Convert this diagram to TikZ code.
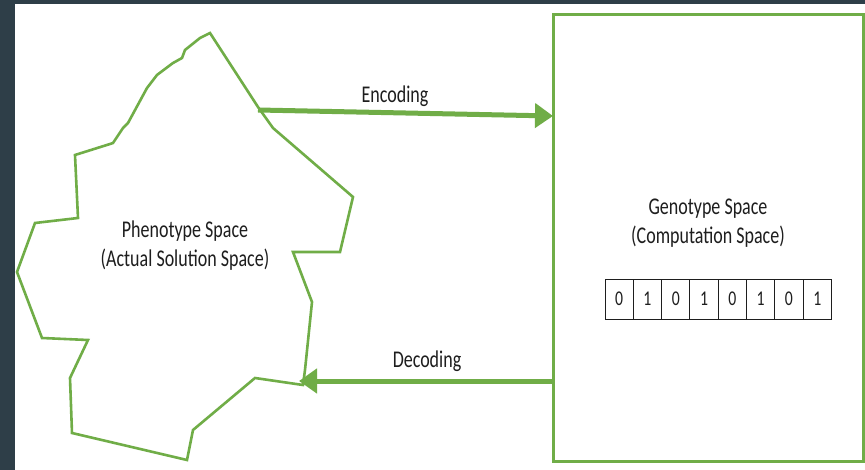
\documentclass[tikz,border=0pt]{standalone}
\usepackage{fontspec}
\setmainfont{Carlito}
\newfontfamily\lbl[FakeStretch=0.75]{Carlito}
\usetikzlibrary{arrows.meta}
\definecolor{bgdark}{RGB}{46,62,72}
\definecolor{gr}{RGB}{112,173,71}
\definecolor{txt}{RGB}{30,30,30}
\begin{document}
\begin{tikzpicture}[x=1pt,y=-1pt,
  lab/.style={font=\lbl\fontsize{24}{29}\selectfont, text=txt, inner sep=0pt, anchor=base, align=center},
  cell/.style={draw=txt, line width=0.9pt, minimum width=28.3pt, minimum height=40pt, inner sep=0pt,
    font=\lbl\fontsize{21}{22}\selectfont, text=txt},
  conn/.style={draw=gr, line width=5pt, -{Triangle[length=18pt,width=24pt]}},
  outline/.style={draw=gr, line width=2.6pt, line join=miter}]
\useasboundingbox (0,0) rectangle (865,470);
\fill[bgdark] (0,0) rectangle (865,470);
\fill[white] (15,4) rectangle (865,470);
% phenotype region
\draw[outline] (210,33) -- (200,38) -- (185,50) -- (182,58) -- (173,63) -- (157,75) -- (147,88)
  -- (128,123) -- (123,128) -- (113,143) -- (110,144) -- (75,155) -- (78,218) -- (35,223)
  -- (17,272) -- (42,338) -- (88,340) -- (70,378) -- (72,433) -- (187,460) -- (193,430)
  -- (255,378) -- (303,385) -- (305,370) -- (312,302) -- (293,252) -- (340,252) -- (353,197)
  -- (273,128) -- (258,107) -- cycle;
\node[lab] (pheno) at (185,267) {Phenotype Space\\(Actual Solution Space)};
% genotype box
\node[draw=gr, line width=3pt, minimum width=310pt, minimum height=446pt, inner sep=0pt] (geno) at (708,238) {};
\node[lab] (genotxt) at (708,244) {Genotype Space\\(Computation Space)};
\foreach \b [count=\i] in {0,1,0,1,0,1,0,1}{
  \node[cell] (c\i) at ({605+28.3*(\i-0.5)},299) {\b};
}
% connectors
\coordinate (encS) at (258,110);
\coordinate (encE) at (553,116);
\coordinate (decS) at (553,381);
\coordinate (decE) at (299,381);
\draw[conn] (encS) -- (encE);
\draw[conn] (decS) -- (decE);
\node[lab] (enc) at (395,103) {Encoding};
\node[lab] (dec) at (427,367) {Decoding};
\end{tikzpicture}
\end{document}
